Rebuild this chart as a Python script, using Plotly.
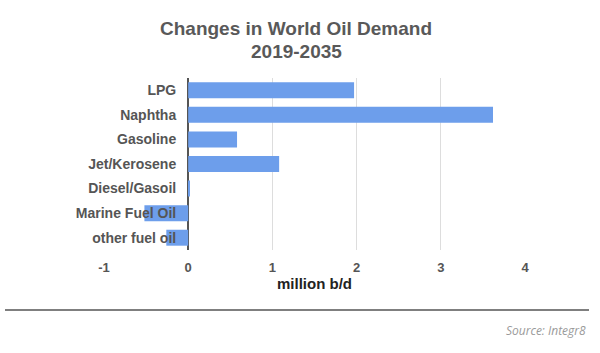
import plotly.graph_objects as go

categories = ["LPG", "Naphtha", "Gasoline", "Jet/Kerosene", "Diesel/Gasoil",
              "Marine Fuel Oil", "other fuel oil"]
values = [1.97, 3.62, 0.58, 1.08, 0.02, -0.52, -0.26]
x_ticks = [-1, 0, 1, 2, 3, 4]
x_tick_text = ["-1", "0", "1", "2", "3", "4"]

W, H = 600, 353
L, R, T, B = 104, 75, 78, 103
pw = W - L - R
ph = H - T - B

def px_x(p):
    return (p - L) / pw

def px_y(p):
    return (H - B - p) / ph

fig = go.Figure(go.Bar(
    y=categories, x=values, orientation="h",
    marker=dict(color="#6d9eeb", line=dict(width=0)),
))

fig.update_layout(
    width=W, height=H,
    margin=dict(l=L, r=R, t=T, b=B),
    paper_bgcolor="white", plot_bgcolor="white",
    bargap=0.35,
    showlegend=False,
    font=dict(family="Liberation Sans, Arial, sans-serif"),
    xaxis=dict(
        range=[-1, 4], tickvals=x_ticks, ticktext=x_tick_text,
        showgrid=True, gridcolor="#dddddd", gridwidth=1,
        zeroline=True, zerolinecolor="#555555", zerolinewidth=1.5,
        showline=False, ticks="",
        tickfont=dict(size=13, color="#555555", weight="bold"),
        ticklabelstandoff=8,
        title=dict(text="million b/d", standoff=4,
                   font=dict(size=15, color="#222222", weight="bold")),
        fixedrange=True,
    ),
    yaxis=dict(
        autorange="reversed",
        anchor="free", position=0.2,
        showgrid=False, zeroline=False, showline=False, ticks="",
        tickfont=dict(size=14, color="#555555", weight="bold"),
        ticklabelstandoff=12,
        fixedrange=True,
    ),
)

fig.add_annotation(text="Changes in World Oil Demand", xref="paper", yref="paper",
                   x=px_x(296), y=px_y(29), xanchor="center", yanchor="middle",
                   showarrow=False,
                   font=dict(size=19, color="#595959", weight="bold"))
fig.add_annotation(text="2019-2035", xref="paper", yref="paper",
                   x=px_x(296), y=px_y(52), xanchor="center", yanchor="middle",
                   showarrow=False,
                   font=dict(size=19, color="#595959", weight="bold"))

fig.add_shape(type="line", xref="paper", yref="paper",
              x0=px_x(5), x1=px_x(589), y0=px_y(310), y1=px_y(310),
              line=dict(color="#555555", width=1.5))

fig.add_annotation(text="Source: Integr8", xref="paper", yref="paper",
                   x=px_x(588), y=px_y(330), xanchor="right", yanchor="middle",
                   showarrow=False,
                   font=dict(family="Open Sans, sans-serif", size=12,
                             color="#9a9a9a", style="italic"))

fig.write_html("out.html")
